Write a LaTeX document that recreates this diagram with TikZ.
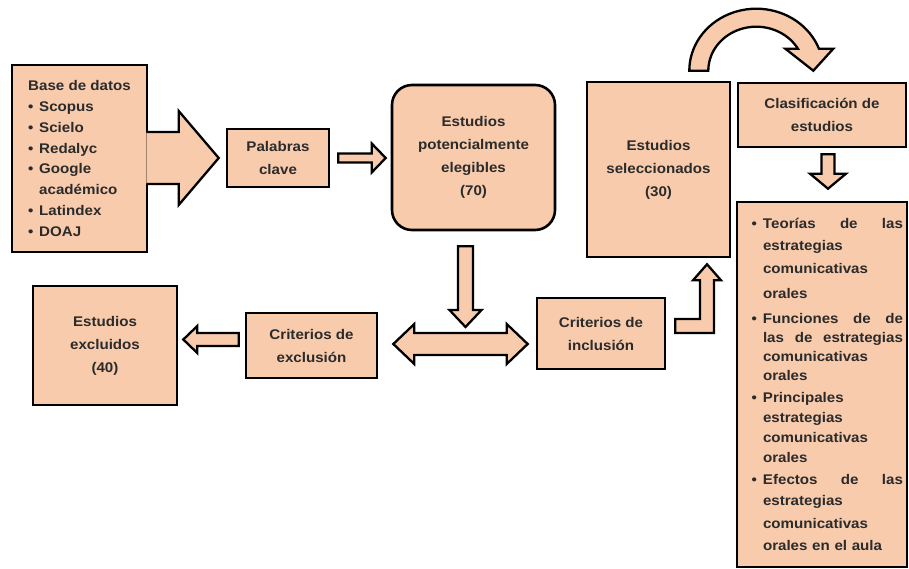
\documentclass[tikz,border=0pt]{standalone}
\usepackage{fontspec}
\setmainfont{Liberation Sans}[FakeStretch=1.08]
\usetikzlibrary{calc}
\definecolor{peach}{HTML}{F8CBAD}
\definecolor{ink}{HTML}{2B2B2B}
% straight block arrow: from #1 to tip #2, half shaft #3, half head #4, head length #5
\newcommand\blockarrow[5]{%
  \coordinate (hb) at ($(#2)!#5!(#1)$);
  \filldraw[arrowbody] ($(#1)!#3!90:(#2)$) -- ($(hb)!#3!90:(#2)$) -- ($(hb)!#4!90:(#2)$) -- (#2)
    -- ($(hb)!#4!-90:(#2)$) -- ($(hb)!#3!-90:(#2)$) -- ($(#1)!#3!-90:(#2)$) -- cycle;}
% same, open at the start (joined to a box)
\newcommand\joinarrow[5]{%
  \coordinate (hb) at ($(#2)!#5!(#1)$);
  \filldraw[arrowbody] ($(#1)!#3!90:(#2)$) -- ($(hb)!#3!90:(#2)$) -- ($(hb)!#4!90:(#2)$) -- (#2)
    -- ($(hb)!#4!-90:(#2)$) -- ($(hb)!#3!-90:(#2)$) -- ($(#1)!#3!-90:(#2)$);}
% two headed block arrow
\newcommand\dblarrow[5]{%
  \coordinate (ha) at ($(#1)!#5!(#2)$);
  \coordinate (hb) at ($(#2)!#5!(#1)$);
  \filldraw[arrowbody] (#1) -- ($(ha)!#4!90:(#2)$) -- ($(ha)!#3!90:(#2)$) -- ($(hb)!#3!90:(#2)$)
    -- ($(hb)!#4!90:(#2)$) -- (#2) -- ($(hb)!#4!-90:(#2)$) -- ($(hb)!#3!-90:(#2)$)
    -- ($(ha)!#3!-90:(#2)$) -- ($(ha)!#4!-90:(#2)$) -- cycle;}
\newcommand\bulb{\makebox[11pt][l]{\textbullet}}
\newcommand\bul{\leavevmode\llap{\textbullet\hspace{6pt}}}
\newcommand\wgap{\hskip 0pt plus 1filll\relax}
\tikzset{
  box/.style={draw=black, line width=2.6pt, fill=peach, text=ink, align=center, inner sep=0pt,
    font=\bfseries\fontsize{14}{23}\selectfont},
  arrowbody/.style={draw=black, line width=2.3pt, fill=peach, line join=miter},
}
\begin{document}
\begin{tikzpicture}[x=1pt,y=-1pt]
\useasboundingbox (0,0) rectangle (909,569);
% boxes
\node[box, minimum width=135, minimum height=187, align=left,
  font=\bfseries\fontsize{14}{20.9}\selectfont] (bases) at (79.5,158.5)
  {Base de datos\\ \bulb Scopus\\ \bulb Scielo\\ \bulb Redalyc\\ \bulb Google\\
   \hspace*{11pt}académico\\ \bulb Latindex\\ \bulb DOAJ};
\node[box, minimum width=102, minimum height=58] (palabras) at (278,158) {Palabras\\clave};
\node[box, minimum width=163, minimum height=145, rounded corners=20pt] (potenciales) at (473.5,157.5)
  {Estudios\\potencialmente\\elegibles\\(70)};
\node[box, minimum width=143, minimum height=175] (seleccionados) at (658.5,169.5)
  {Estudios\\seleccionados\\(30)};
\node[box, minimum width=168, minimum height=64] (clasif) at (822,115) {Clasificación de\\estudios};
\node[box, minimum width=170, minimum height=365, text width=162pt, align=left,
  font=\bfseries\fontsize{14}{20}\selectfont] (lista) at (822,384.5)
  {\parindent=0pt\leftskip=22pt
   \bul Teorías \wgap de \wgap las\\[2pt]
   estrategias\\[3pt]
   comunicativas\\[5pt]
   orales\\[5pt]
   \bul Funciones \wgap de \wgap de\\[-1pt]
   las \wgap de \wgap estrategias\\[-1pt]
   comunicativas\\[-1pt]
   orales\\[2pt]
   \bul Principales\\
   estrategias\\
   comunicativas\\
   orales\\[2pt]
   \bul Efectos \wgap de \wgap las\\[1pt]
   estrategias\\[3pt]
   comunicativas\\[2pt]
   orales en el aula\par};
\node[box, minimum width=128, minimum height=71] (inclusion) at (601,333.5) {Criterios de\\inclusión};
\node[box, minimum width=131, minimum height=65] (exclusion) at (311.5,345.5) {Criterios de\\exclusión};
\node[box, minimum width=144, minimum height=119] (excluidos) at (105,345.5) {Estudios\\excluidos\\(40)};
% arrows
\coordinate (ba-a) at ($(bases.east |- palabras.west)+(-2,0)$);
\coordinate (ba-b) at ($(palabras.west)+(-7,0)$);
\joinarrow{ba-a}{ba-b}{26pt}{47pt}{40pt}
\coordinate (pk-a) at ($(palabras.east)+(8,0)$);
\coordinate (pk-b) at ($(potenciales.west |- palabras.east)+(-5,0)$);
\blockarrow{pk-a}{pk-b}{4.5pt}{14.5pt}{14pt}
\coordinate (dbl-a) at ($(exclusion.east)+(15,-1.5)$);
\coordinate (dbl-b) at ($(inclusion.west |- dbl-a)+(-8,0)$);
\coordinate (pd-a) at ($(potenciales.south)+(-8,15)$);
\coordinate (pd-b) at ($(pd-a |- dbl-a)+(0,-17)$);
\blockarrow{pd-a}{pd-b}{7.5pt}{16pt}{17pt}
\dblarrow{dbl-a}{dbl-b}{11pt}{20pt}{21pt}
\coordinate (ex-a) at ($(exclusion.west)+(-6,-6)$);
\coordinate (ex-b) at ($(excluidos.east |- ex-a)+(5,0)$);
\blockarrow{ex-a}{ex-b}{6.5pt}{13.5pt}{14pt}
% bent arrow up to the selected studies
\coordinate (l-a) at ($(inclusion.east)+(9,-7.5)$);
\coordinate (l-b) at ($(seleccionados.south)+(48.5,6)$);
\coordinate (l-c) at (l-b |- l-a);
\filldraw[arrowbody] ($(l-a)+(0,-7)$) -- ($(l-c)+(-7,-7)$) -- ($(l-b)+(-7,16)$) -- ($(l-b)+(-14,16)$)
  -- (l-b) -- ($(l-b)+(14,16)$) -- ($(l-b)+(7,16)$) -- ($(l-c)+(7,7)$) -- ($(l-a)+(0,7)$) -- cycle;
% curved arrow over the top
\coordinate (arc-c) at ($(seleccionados.north east)+(25,-10)$);
\begin{scope}[shift={(arc-c)}]
\filldraw[arrowbody] plot[domain=180:20.8,samples=40] ({67*cos(\x)},{-62*sin(\x)})
  -- (77,-22) -- (57,0) -- (29,-22)
  -- plot[domain=30:180,samples=40] ({48*cos(\x)},{-44*sin(\x)}) -- cycle;
\end{scope}
\coordinate (cl-a) at ($(clasif.south)+(6,6)$);
\coordinate (cl-b) at ($(lista.north)+(6,-12)$);
\blockarrow{cl-a}{cl-b}{6.5pt}{18pt}{15pt}
\end{tikzpicture}
\end{document}
